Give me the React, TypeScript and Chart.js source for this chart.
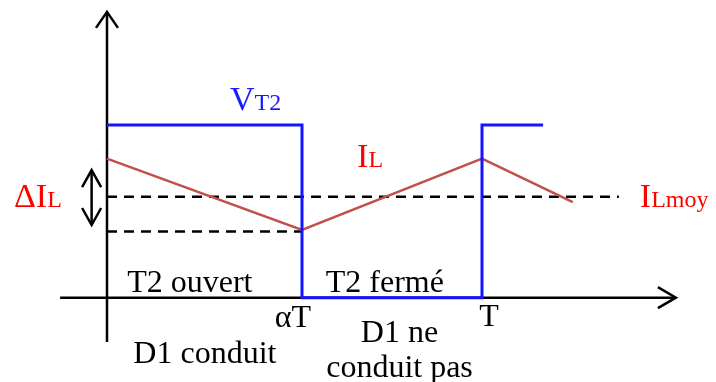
import React, { useEffect, useRef } from "react";
import { Chart, registerables } from "chart.js";

Chart.register(...registerables);

// Time axis: 0 = origin, alpha*T and T
const ALPHA_T = 0.52;
const PERIOD_T = 1;

// V_T2 square wave (blue)
const vt2X = [0, ALPHA_T, ALPHA_T, PERIOD_T, PERIOD_T, 1.163];
const vt2Y = [1, 1, 0, 0, 1, 1];

// I_L triangular current (red)
const ilX = [0, ALPHA_T, PERIOD_T, 1.242];
const ilY = [0.805, 0.392, 0.805, 0.554];

// I_Lmoy average (dashed) and minimum level (dashed)
const ilMoyX = [0, 1.365];
const ilMoyY = [0.585, 0.585];
const ilMinX = [0, ALPHA_T];
const ilMinY = [0.384, 0.384];

// axes extents and delta I_L arrow
const xAxisRange = [-0.125, 1.517];
const yAxisRange = [-0.256, 1.655];
const deltaArrowX = -0.041;
const deltaArrowRange = [0.421, 0.739];

// view window
const xView = [-0.2853, 1.624];
const yView = [-0.4881, 1.7238];

type Part = { t: string; big: boolean };
type Label = { x: number; y: number; align: "left" | "center"; color: string; parts: Part[] };

const labels: Label[] = [
  { x: 0.328, y: 1.087, align: "left", color: "#1a1aff", parts: [{ t: "V", big: true }, { t: "T2", big: false }] },
  { x: -0.248, y: 0.525, align: "left", color: "#ff0000", parts: [{ t: "ΔI", big: true }, { t: "L", big: false }] },
  { x: 0.667, y: 0.757, align: "left", color: "#ff0000", parts: [{ t: "I", big: true }, { t: "L", big: false }] },
  { x: 1.421, y: 0.525, align: "left", color: "#ff0000", parts: [{ t: "I", big: true }, { t: "Lmoy", big: false }] },
  { x: 0.221, y: 0.033, align: "center", color: "#000000", parts: [{ t: "T2 ouvert", big: false }] },
  { x: 0.741, y: 0.033, align: "center", color: "#000000", parts: [{ t: "T2 fermé", big: false }] },
  { x: 0.496, y: -0.17, align: "center", color: "#000000", parts: [{ t: "αT", big: false }] },
  { x: 1.019, y: -0.164, align: "center", color: "#000000", parts: [{ t: "T", big: false }] },
  { x: 0.261, y: -0.378, align: "center", color: "#000000", parts: [{ t: "D1 conduit", big: false }] },
  { x: 0.78, y: -0.256, align: "center", color: "#000000", parts: [{ t: "D1 ne", big: false }] },
  { x: 0.78, y: -0.459, align: "center", color: "#000000", parts: [{ t: "conduit pas", big: false }] },
];

const FONT = '"Liberation Serif", "Times New Roman", serif';

function toPoints(xs: number[], ys: number[]) {
  return xs.map((x, i) => ({ x, y: ys[i] }));
}

function arrowHead(ctx: CanvasRenderingContext2D, tx: number, ty: number, dx: number, dy: number, len: number, half: number) {
  const bx = tx - dx * len;
  const by = ty - dy * len;
  const nx = -dy;
  const ny = dx;
  ctx.beginPath();
  ctx.moveTo(bx + nx * half, by + ny * half);
  ctx.lineTo(tx, ty);
  ctx.lineTo(bx - nx * half, by - ny * half);
  ctx.stroke();
}

const diagramPlugin = {
  id: "diagram",
  beforeDatasetsDraw(chart: any) {
    const ctx = chart.ctx as CanvasRenderingContext2D;
    const xs = chart.scales.x;
    const ys = chart.scales.y;
    ctx.save();
    ctx.strokeStyle = "#000";
    ctx.lineWidth = 2.5;
    ctx.lineCap = "butt";
    ctx.lineJoin = "miter";
    const x0 = xs.getPixelForValue(xAxisRange[0]);
    const x1 = xs.getPixelForValue(xAxisRange[1]);
    const yz = ys.getPixelForValue(0);
    ctx.beginPath();
    ctx.moveTo(x0, yz);
    ctx.lineTo(x1, yz);
    ctx.stroke();
    arrowHead(ctx, x1, yz, 1, 0, 18, 10.5);
    const xz = xs.getPixelForValue(0);
    const y0 = ys.getPixelForValue(yAxisRange[0]);
    const y1 = ys.getPixelForValue(yAxisRange[1]);
    ctx.beginPath();
    ctx.moveTo(xz, y0);
    ctx.lineTo(xz, y1);
    ctx.stroke();
    arrowHead(ctx, xz, y1, 0, -1, 16, 11);
    const dx = xs.getPixelForValue(deltaArrowX);
    const da = ys.getPixelForValue(deltaArrowRange[0]);
    const db = ys.getPixelForValue(deltaArrowRange[1]);
    ctx.beginPath();
    ctx.moveTo(dx, da);
    ctx.lineTo(dx, db);
    ctx.stroke();
    arrowHead(ctx, dx, db, 0, -1, 17, 9.5);
    arrowHead(ctx, dx, da, 0, 1, 17, 9.5);
    ctx.restore();
  },
  afterDatasetsDraw(chart: any) {
    const ctx = chart.ctx as CanvasRenderingContext2D;
    const xs = chart.scales.x;
    const ys = chart.scales.y;
    ctx.save();
    ctx.textBaseline = "alphabetic";
    for (const lb of labels) {
      const px = xs.getPixelForValue(lb.x);
      const py = ys.getPixelForValue(lb.y);
      const single = lb.parts.length === 1;
      const fontFor = (p: Part) => `${single ? 32 : p.big ? 34 : 24}px ${FONT}`;
      let total = 0;
      for (const p of lb.parts) {
        ctx.font = fontFor(p);
        total += ctx.measureText(p.t).width;
      }
      let cx = lb.align === "center" ? px - total / 2 : px;
      ctx.fillStyle = lb.color;
      ctx.textAlign = "left";
      for (const p of lb.parts) {
        ctx.font = fontFor(p);
        ctx.fillText(p.t, cx, py);
        cx += ctx.measureText(p.t).width;
      }
    }
    ctx.restore();
  },
};

export default function App() {
  const ref = useRef<HTMLCanvasElement | null>(null);
  useEffect(() => {
    if (!ref.current) return;
    const common = { showLine: true, pointRadius: 0, tension: 0, clip: false as any };
    const chart = new Chart(ref.current, {
      type: "scatter",
      data: {
        datasets: [
          { ...common, label: "VT2", data: toPoints(vt2X, vt2Y), borderColor: "#1414ff", borderWidth: 3, order: 1 },
          { ...common, label: "IL", data: toPoints(ilX, ilY), borderColor: "#c0504d", borderWidth: 2.5, order: 2 },
          { ...common, label: "ILmoy", data: toPoints(ilMoyX, ilMoyY), borderColor: "#000000", borderWidth: 2.5, borderDash: [10, 7], order: 3 },
          { ...common, label: "ILmin", data: toPoints(ilMinX, ilMinY), borderColor: "#000000", borderWidth: 2.5, borderDash: [10, 7], order: 3 },
        ] as any,
      },
      options: {
        animation: false,
        responsive: false,
        maintainAspectRatio: false,
        devicePixelRatio: 1,
        layout: { padding: 0, autoPadding: false } as any,
        plugins: { legend: { display: false }, tooltip: { enabled: false } },
        events: [],
        scales: {
          x: { type: "linear", display: false, min: xView[0], max: xView[1] },
          y: { type: "linear", display: false, min: yView[0], max: yView[1] },
        },
      },
      plugins: [diagramPlugin],
    });
    return () => chart.destroy();
  }, []);
  return (
    <div style={{ position: "fixed", left: 0, top: 0, width: 716, height: 382, background: "#fff" }}>
      <canvas ref={ref} width={716} height={382} style={{ display: "block", width: 716, height: 382 }} />
    </div>
  );
}
